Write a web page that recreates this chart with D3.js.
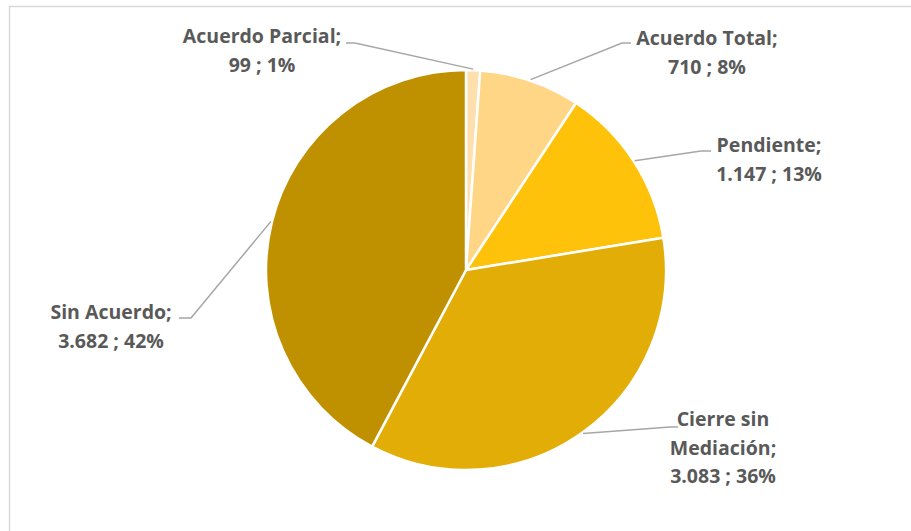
<!DOCTYPE html>
<html>
<head>
<meta charset="utf-8">
<script src="https://cdn.jsdelivr.net/npm/d3@7"></script>
<style>
	body { margin: 0; background: #fff; }
	svg { display: block; }
	.lbl { font-family: "Open Sans", Lato, sans-serif; font-weight: bold; font-size: 19.5px; fill: #595959; }
</style>
</head>
<body>
<div id="chart"></div>
<script>
var categories = ["Acuerdo Parcial", "Acuerdo Total", "Pendiente", "Cierre sin Mediación", "Sin Acuerdo"];
var values = [99, 710, 1147, 3083, 3682];
var valueLabels = ["99", "710", "1.147", "3.083", "3.682"];
var pctLabels = ["1%", "8%", "13%", "36%", "42%"];
var colors = ["#FFDFAE", "#FFD685", "#FFC20A", "#E1AD06", "#BF9000"];

// label text lines, per slice
var labelLines = [
	["Acuerdo Parcial;", "99 ; 1%"],
	["Acuerdo Total;", "710 ; 8%"],
	["Pendiente;", "1.147 ; 13%"],
	["Cierre sin", "Mediación;", "3.083 ; 36%"],
	["Sin Acuerdo;", "3.682 ; 42%"]
];

var w = 911, h = 531;
var cx = 466, cy = 270, r = 200;

// label layout: text centre, first baseline, elbow point, elbow end
var layout = [
	{tx: 262, ty: 43, ex: 355, ey: 43, hx: 346},
	{tx: 707, ty: 45, ex: 622, ey: 43, hx: 631},
	{tx: 769, ty: 152, ex: 701, ey: 151, hx: 711},
	{tx: 723, ty: 426, ex: 670, ey: 427, hx: 678},
	{tx: 111, ty: 319, ex: 191, ey: 318, hx: 179}
];

var svg = d3.select("#chart").append("svg").attr("width", w).attr("height", h);

// chart frame
svg.append("rect")
	.attr("x", 9.5).attr("y", 6.5)
	.attr("width", w + 20).attr("height", h + 20)
	.attr("fill", "none")
	.attr("stroke", "#d9d9d9")
	.attr("stroke-width", 1.5);

var data = categories.map(function(c, i){
	return {name: c, value: values[i], color: colors[i], lines: labelLines[i], lay: layout[i]};
});

var pie = d3.pie().sort(null).value(function(d){ return d.value; });
var arc = d3.arc().innerRadius(0).outerRadius(r);
var arcs = pie(data);

var g = svg.append("g").attr("transform", "translate(" + cx + "," + cy + ")");

g.selectAll("path.slice")
	.data(arcs)
	.enter()
	.append("path")
	.attr("class", "slice")
	.attr("d", arc)
	.attr("fill", function(d){ return d.data.color; })
	.attr("stroke", "#fff")
	.attr("stroke-width", 2.5)
	.attr("stroke-linejoin", "round");

// leader lines
svg.selectAll("polyline.leader")
	.data(arcs)
	.enter()
	.append("polyline")
	.attr("class", "leader")
	.attr("fill", "none")
	.attr("stroke", "#a6a6a6")
	.attr("stroke-width", 1.5)
	.attr("points", function(d){
		var a = (d.startAngle + d.endAngle) / 2;
		var px = cx + Math.sin(a) * (r + 1), py = cy - Math.cos(a) * (r + 1);
		var l = d.data.lay;
		return [[px, py], [l.ex, l.ey], [l.hx, l.ey]].join(" ");
	});

// labels
var lbl = svg.selectAll("text.lbl")
	.data(arcs)
	.enter()
	.append("text")
	.attr("class", "lbl")
	.attr("text-anchor", "middle");

lbl.each(function(d){
	var t = d3.select(this);
	d.data.lines.forEach(function(line, k){
		t.append("tspan")
			.attr("x", d.data.lay.tx)
			.attr("y", d.data.lay.ty + k * 28.5)
			.text(line);
	});
});
</script>
</body>
</html>
